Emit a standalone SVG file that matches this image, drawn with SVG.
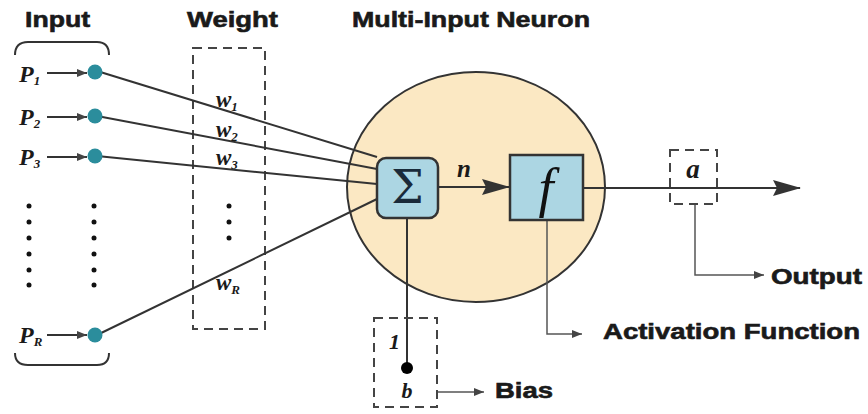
<svg xmlns="http://www.w3.org/2000/svg" width="868" height="414" viewBox="0 0 868 414">
<defs>
<marker id="ah" markerWidth="28" markerHeight="16" refX="27" refY="8" orient="auto" markerUnits="userSpaceOnUse"><path d="M0,0 L28,8 L0,16 L4,8 Z" fill="#333"/></marker>
<marker id="ahs" markerWidth="10" markerHeight="8" refX="10" refY="4" orient="auto" markerUnits="userSpaceOnUse"><path d="M0,0 L10,4 L0,8 Z" fill="#444"/></marker>
<style>
.hd{font-family:"Liberation Sans",Arial,sans-serif;font-weight:bold;font-size:22px;fill:#1a1a1a;stroke:#1a1a1a;stroke-width:0.6}
.it{font-family:"Liberation Serif","Times New Roman",serif;font-weight:bold;font-style:italic;fill:#1a1a1a}
.ln{stroke:#333;stroke-width:2;fill:none}
.thin{stroke:#555;stroke-width:1.5;fill:none}
.dash{stroke:#444;stroke-width:2;fill:none;stroke-dasharray:9,6}
.dot{fill:#111}
.node{fill:#2b8d9c}
.box{fill:#acd6e3;stroke:#333;stroke-width:2.5}
</style>
</defs>
<rect width="868" height="414" fill="#fff"/>
<g id="headings">
<text class="hd" x="25" y="27" textLength="65" lengthAdjust="spacingAndGlyphs">Input</text>
<text class="hd" x="187" y="27" textLength="91" lengthAdjust="spacingAndGlyphs">Weight</text>
<text class="hd" x="352" y="27" textLength="238" lengthAdjust="spacingAndGlyphs">Multi-Input Neuron</text>
</g>
<g id="braces">
<path class="ln" d="M15,55 Q15,42 28,42 L97,42 Q109,42 109,55"/>
<path class="ln" d="M15,353 Q15,365 28,365 L97,365 Q109,365 109,353"/>
</g>
<g id="weight-box"><rect class="dash" x="193" y="48" width="72" height="281"/></g>
<g id="neuron"><ellipse cx="476" cy="187" rx="129" ry="115" fill="#fbe8c3" stroke="#333" stroke-width="2"/></g>
<g id="connectors">
<line class="ln" x1="97" y1="71" x2="377" y2="157"/>
<line class="ln" x1="97" y1="116" x2="377" y2="169"/>
<line class="ln" x1="97" y1="156" x2="377" y2="184"/>
<line class="ln" x1="97" y1="335" x2="377" y2="199"/>
<line class="ln" x1="47" y1="73" x2="87" y2="73" marker-end="url(#ahs)"/>
<line class="ln" x1="47" y1="117" x2="87" y2="117" marker-end="url(#ahs)"/>
<line class="ln" x1="47" y1="157" x2="87" y2="157" marker-end="url(#ahs)"/>
<line class="ln" x1="47" y1="335" x2="87" y2="335" marker-end="url(#ahs)"/>
<line class="ln" x1="438" y1="187" x2="509" y2="187" marker-end="url(#ah)"/>
<line class="ln" x1="583" y1="188" x2="800" y2="188" marker-end="url(#ah)"/>
<line class="ln" x1="407" y1="218" x2="407" y2="368"/>
<path class="thin" d="M547,220 L547,334 L582,334" marker-end="url(#ahs)"/>
<path class="thin" d="M695,204 L695,275 L764,275" marker-end="url(#ahs)"/>
<line class="thin" x1="437" y1="392" x2="484" y2="392" marker-end="url(#ahs)"/>
</g>
<g id="input-nodes">
<circle class="node" cx="95" cy="72" r="7.5"/>
<circle class="node" cx="95" cy="116" r="7.5"/>
<circle class="node" cx="95" cy="156" r="7.5"/>
<circle class="node" cx="95" cy="335" r="7.5"/>
<text class="it" x="19" y="82" font-size="24">P<tspan font-size="13" dy="3">1</tspan></text>
<text class="it" x="19" y="125" font-size="24">P<tspan font-size="13" dy="3">2</tspan></text>
<text class="it" x="19" y="165" font-size="24">P<tspan font-size="13" dy="3">3</tspan></text>
<text class="it" x="19" y="343" font-size="24">P<tspan font-size="13" dy="3">R</tspan></text>
</g>
<g id="ellipsis">
<circle class="dot" cx="29" cy="206" r="2.5"/><circle class="dot" cx="29" cy="222" r="2.5"/><circle class="dot" cx="29" cy="238" r="2.5"/><circle class="dot" cx="29" cy="254" r="2.5"/><circle class="dot" cx="29" cy="270" r="2.5"/><circle class="dot" cx="29" cy="285" r="2.5"/>
<circle class="dot" cx="94" cy="206" r="2.5"/><circle class="dot" cx="94" cy="222" r="2.5"/><circle class="dot" cx="94" cy="238" r="2.5"/><circle class="dot" cx="94" cy="254" r="2.5"/><circle class="dot" cx="94" cy="270" r="2.5"/><circle class="dot" cx="94" cy="285" r="2.5"/>
<circle class="dot" cx="229" cy="206" r="2.5"/><circle class="dot" cx="229" cy="222" r="2.5"/><circle class="dot" cx="229" cy="238" r="2.5"/>
</g>
<g id="weights">
<text class="it" x="216" y="107" font-size="23">w<tspan font-size="13" dy="4">1</tspan></text>
<text class="it" x="216" y="137" font-size="23">w<tspan font-size="13" dy="4">2</tspan></text>
<text class="it" x="216" y="165" font-size="23">w<tspan font-size="13" dy="4">3</tspan></text>
<text class="it" x="216" y="290" font-size="23">w<tspan font-size="13" dy="4">R</tspan></text>
</g>
<g id="sum">
<rect class="box" x="377" y="158" width="61" height="60" rx="9"/>
<text x="407.5" y="203" text-anchor="middle" font-family="DejaVu Serif,serif" font-size="46" fill="#1a2a3a">Σ</text>
</g>
<text class="it" x="457" y="177" font-size="25">n</text>
<g id="activation">
<rect class="box" x="510" y="155" width="73" height="65" rx="0"/>
<text x="546" y="206" text-anchor="middle" font-family="Liberation Serif,serif" font-style="italic" font-size="54" fill="#111">f</text>
</g>
<g id="output-box">
<rect class="dash" x="670" y="150" width="47" height="54"/>
<text class="it" x="693" y="178" text-anchor="middle" font-size="27">a</text>
</g>
<g id="bias">
<rect class="dash" x="374" y="318" width="63" height="89"/>
<text class="it" x="389" y="349" font-size="22">1</text>
<circle cx="407" cy="368" r="6" fill="#000"/>
<text class="it" x="407" y="398" text-anchor="middle" font-size="22">b</text>
</g>
<g id="labels">
<text class="hd" x="495" y="398" textLength="58" lengthAdjust="spacingAndGlyphs">Bias</text>
<text class="hd" x="603" y="339" textLength="257" lengthAdjust="spacingAndGlyphs">Activation Function</text>
<text class="hd" x="771" y="284" textLength="91" lengthAdjust="spacingAndGlyphs">Output</text>
</g>
</svg>
